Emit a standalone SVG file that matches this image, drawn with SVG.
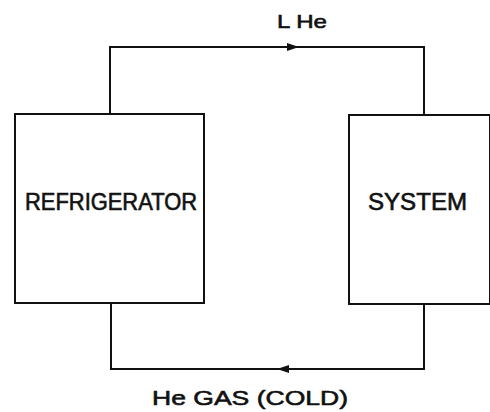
<svg xmlns="http://www.w3.org/2000/svg" width="490" height="412" viewBox="0 0 490 412">
<style>
.box{fill:none;stroke:#111;stroke-width:2}
.line{fill:none;stroke:#111;stroke-width:2}
.t{font-family:"Liberation Sans",Arial,sans-serif;fill:#111;stroke:#111;stroke-width:0.6}
</style>
<defs>
<marker id="arr" markerWidth="12" markerHeight="8" refX="6" refY="4" orient="auto" markerUnits="userSpaceOnUse">
<path d="M0,0 L12,4 L0,8 Z" fill="#111"/>
</marker>
</defs>
<rect width="490" height="412" fill="#fff"/>
<g id="connectors">
<path class="line" d="M110,114 V47 H424 V115"/>
<path class="line" d="M110,47 H293" marker-end="url(#arr)"/>
<path class="line" d="M111,303 V369 H424 V304"/>
<path class="line" d="M424,369 H283" marker-end="url(#arr)"/>
</g>
<g id="refrigerator">
<rect class="box" x="15" y="114" width="189" height="189"/>
<text class="t" x="25" y="210" font-size="23" textLength="172" lengthAdjust="spacingAndGlyphs">REFRIGERATOR</text>
</g>
<g id="system">
<rect class="box" x="349" y="115" width="141" height="189"/>
<text class="t" x="368" y="210" font-size="23" textLength="99" lengthAdjust="spacingAndGlyphs">SYSTEM</text>
</g>
<g id="labels">
<text class="t" x="277" y="28" font-size="19" textLength="50" lengthAdjust="spacingAndGlyphs">L He</text>
<text class="t" x="152" y="405" font-size="21" textLength="196" lengthAdjust="spacingAndGlyphs">He GAS (COLD)</text>
</g>
</svg>
